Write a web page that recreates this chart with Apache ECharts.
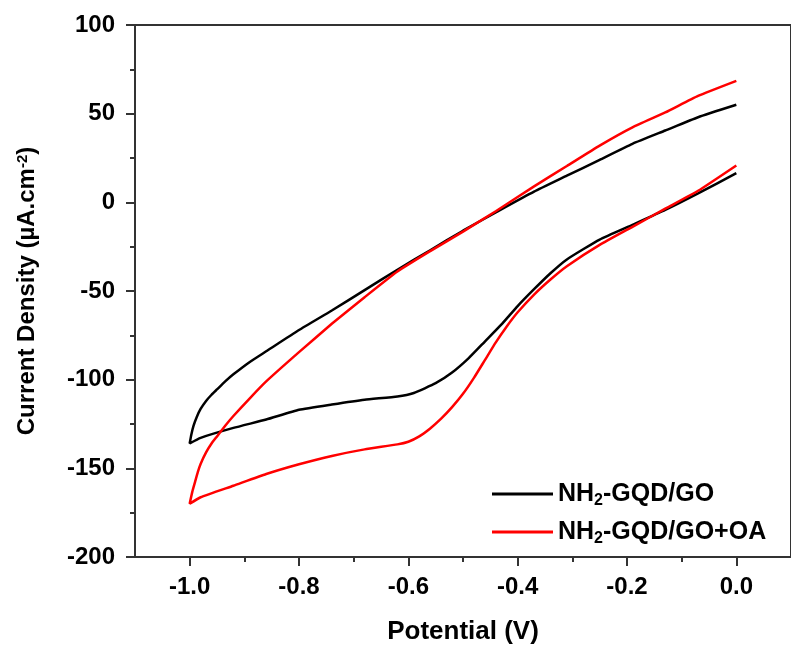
<html>
<head>
<meta charset="utf-8" />
<title>CV curves</title>
<script src="https://cdn.jsdelivr.net/npm/echarts@6/dist/echarts.min.js"></script>
<style type="text/css">
body { margin: 0; background: #fff; }
#echarts { width: 791px; height: 650px; }
</style>
</head>
<body>
<div id="echarts"></div>
<script type="text/javascript">

var myChart = echarts.init(document.getElementById("echarts"));

// NH2-GQD/GO : cathodic sweep 0 -> -1.0, then back -1.0 -> 0
var potBlack = [0, -0.07, -0.13, -0.19, -0.25, -0.31, -0.34, -0.37, -0.40, -0.43, -0.46, -0.49, -0.52, -0.55, -0.59, -0.62, -0.68, -0.74, -0.80, -0.86, -0.92, -0.98, -1.0,
    -0.997, -0.993, -0.987, -0.98, -0.97, -0.96, -0.95, -0.935, -0.92, -0.89, -0.86, -0.80, -0.74, -0.68, -0.62, -0.56, -0.50, -0.43, -0.37, -0.31, -0.25, -0.19, -0.13, -0.07, 0];
var curBlack = [16.5, 5, -4.3, -12.7, -21, -32.2, -40, -49, -58.5, -69, -78.5, -88, -96, -102, -107.5, -109.5, -111.3, -114, -117, -122.5, -127.2, -132.8, -136,
    -131, -126, -121, -116.5, -112, -108.5, -105.5, -101, -97, -90, -84, -72, -61, -49.5, -38, -27, -16, -4, 6, 15, 24, 33, 40.5, 48, 55];

// NH2-GQD/GO+OA
var potRed = [0, -0.07, -0.13, -0.19, -0.25, -0.31, -0.34, -0.37, -0.40, -0.42, -0.44, -0.46, -0.48, -0.50, -0.52, -0.54, -0.56, -0.58, -0.60, -0.62, -0.68, -0.74, -0.80, -0.86, -0.92, -0.98, -1.0,
    -0.995, -0.99, -0.985, -0.98, -0.97, -0.96, -0.95, -0.935, -0.92, -0.89, -0.86, -0.80, -0.74, -0.68, -0.62, -0.56, -0.50, -0.44, -0.37, -0.31, -0.25, -0.19, -0.13, -0.07, 0];
var curRed = [20.8, 6.5, -3.6, -13.8, -24, -36, -43.5, -52, -62, -70, -79, -89, -99, -108, -115.5, -122, -127.5, -132, -135, -136.5, -139.3, -143, -147.7, -153.2, -159.8, -166.3, -170,
    -163, -157.5, -152, -147.5, -141, -136, -132, -126, -120.5, -110.5, -101, -84.5, -68.5, -53.5, -39, -27.5, -16.5, -5, 9, 20.5, 32, 42.3, 50.7, 60, 68.5];

var xMajorTicks = [-1.0, -0.8, -0.6, -0.4, -0.2, 0.0];
var xMinorTicks = [-0.9, -0.7, -0.5, -0.3, -0.1];
var seriesNames = ['NH2-GQD/GO', 'NH2-GQD/GO+OA'];
var seriesColors = ['#000000', '#ff0000'];

function pairs(xs, ys) {
    return xs.map(function (x, i) { return [x, ys[i]]; });
}

var font = 'Arial, "Liberation Sans", sans-serif';
var axisColor = '#333';

option = {
    animation: false,
    backgroundColor: '#fff',
    grid: {
        left: 135,
        top: 25,
        width: 664,
        height: 537,
        show: true,
        borderColor: axisColor,
        borderWidth: 2
    },
    legend: {
        data: seriesNames,
        orient: 'vertical',
        left: 487,
        top: 474,
        icon: 'rect',
        itemWidth: 61,
        itemHeight: 3,
        itemGap: 8,
        formatter: function (name) {
            return name.replace('NH2', 'NH{sub|2}');
        },
        textStyle: {
            fontFamily: font,
            fontWeight: 'bold',
            fontSize: 25,
            color: '#000',
            lineHeight: 30,
            rich: {
                sub: { fontFamily: font, fontWeight: 'bold', fontSize: 16, lineHeight: 30, verticalAlign: 'bottom', color: '#000' }
            }
        }
    },
    xAxis: [{
        type: 'value',
        min: -1.1,
        max: 0.1,
        position: 'bottom',
        name: 'Potential (V)',
        nameLocation: 'middle',
        nameGap: 62,
        nameTextStyle: { fontFamily: font, fontWeight: 'bold', fontSize: 26, color: '#000' },
        axisLine: { onZero: false, lineStyle: { color: axisColor, width: 2 } },
        axisTick: { customValues: xMajorTicks, length: 9, lineStyle: { color: axisColor, width: 2 } },
        axisLabel: {
            customValues: xMajorTicks,
            margin: 18,
            fontFamily: font, fontWeight: 'bold', fontSize: 24, color: '#000',
            formatter: function (v) { return v.toFixed(1); }
        },
        splitLine: { show: false }
    }, {
        type: 'value',
        min: -1.1,
        max: 0.1,
        position: 'bottom',
        offset: 0,
        axisLine: { show: false, onZero: false },
        axisTick: { customValues: xMinorTicks, length: 5, lineStyle: { color: axisColor, width: 2 } },
        axisLabel: { show: false },
        splitLine: { show: false }
    }],
    yAxis: {
        type: 'value',
        min: -200,
        max: 100,
        interval: 50,
        name: 'Current Density (µA.cm{sup|-2})',
        nameLocation: 'middle',
        nameGap: 96,
        nameTextStyle: {
            fontFamily: font, fontWeight: 'bold', fontSize: 24, color: '#000',
            rich: { sup: { fontFamily: font, fontWeight: 'bold', fontSize: 15, verticalAlign: 'top', color: '#000' } }
        },
        axisLine: { onZero: false, lineStyle: { color: axisColor, width: 2 } },
        axisTick: { length: 9, lineStyle: { color: axisColor, width: 2 } },
        minorTick: { show: true, splitNumber: 2, length: 5, lineStyle: { color: axisColor, width: 2 } },
        axisLabel: { margin: 20, fontFamily: font, fontWeight: 'bold', fontSize: 24, color: '#000' },
        splitLine: { show: false }
    },
    series: [{
        name: seriesNames[0],
        type: 'line',
        data: pairs(potBlack, curBlack),
        showSymbol: false,
        smooth: 0.15,
        color: seriesColors[0],
        lineStyle: { width: 2.5 }
    }, {
        name: seriesNames[1],
        type: 'line',
        data: pairs(potRed, curRed),
        showSymbol: false,
        smooth: 0.15,
        color: seriesColors[1],
        lineStyle: { width: 2.5 }
    }]
};

myChart.setOption(option);

</script>
</body>
</html>
